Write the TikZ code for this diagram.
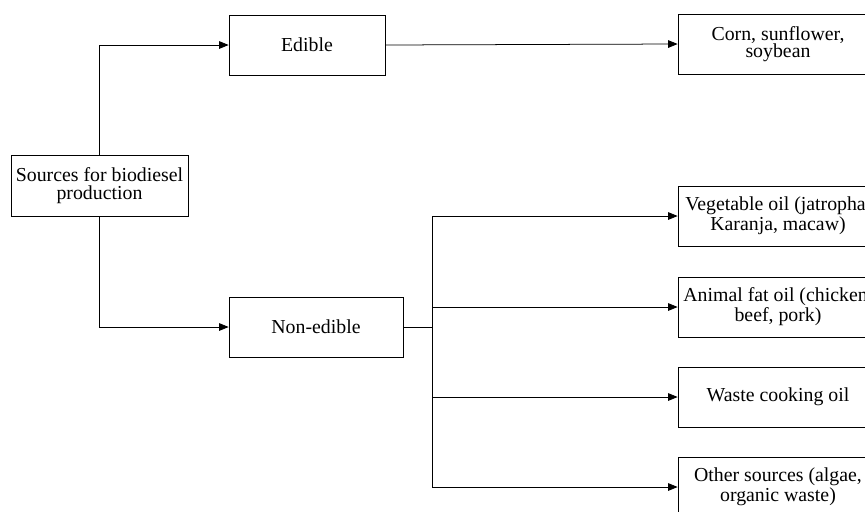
\documentclass[tikz,border=0pt]{standalone}
\usepackage{fontspec}
\setmainfont{Liberation Serif}
\usetikzlibrary{arrows.meta}

% one drawing unit
\newcommand\pxu{0.53pt}

\tikzset{
  srcbox/.style={draw, thin, align=center, inner sep=1pt,
    minimum height=60*\pxu, font=\fontsize{10.5}{9.2}\selectfont},
  link/.style={thin, -{Triangle[length=5pt,width=4pt]}},
}

\begin{document}
\begin{tikzpicture}[x=\pxu, y=-\pxu]
\useasboundingbox (0,0) rectangle (865,511);
\clip (0,0) rectangle (865,511);

% left column
\node[srcbox, minimum width=177*\pxu, minimum height=61*\pxu] (src) at (99.5,185.5)
    {Sources for biodiesel\\production};

% middle column
\node[srcbox, minimum width=156*\pxu] (edible) at (307,45) {Edible};
\node[srcbox, minimum width=174*\pxu] (nonedible) at (316,327) {Non-edible};

% right column
\node[srcbox, minimum width=200*\pxu] (corn) at (778,44)
    {Corn, sunflower,\\soybean};
\node[srcbox, minimum width=200*\pxu] (veg) at (778,216)
    {Vegetable oil (jatropha,\\Karanja, macaw)};
\node[srcbox, minimum width=200*\pxu] (animal) at (778,307)
    {Animal fat oil (chicken,\\beef, pork)};
\node[srcbox, minimum width=200*\pxu] (waste) at (778,397)
    {Waste cooking oil};
\node[srcbox, minimum width=200*\pxu] (other) at (778,487)
    {Other sources (algae,\\organic waste)};

\draw[link] (src.north) |- (edible.west);
\draw[link] (src.south) |- (nonedible.west);
\draw[link] (edible.east) -- (corn.west);

% branch bus for the non-edible group
\coordinate (bus) at (432,327);
\draw[thin] (nonedible.east) -- (bus);
\draw[thin] (bus |- veg.west) -- (bus |- other.west);
\foreach \b in {veg,animal,waste,other}
  \draw[link] (bus |- \b.west) -- (\b.west);
\end{tikzpicture}
\end{document}
